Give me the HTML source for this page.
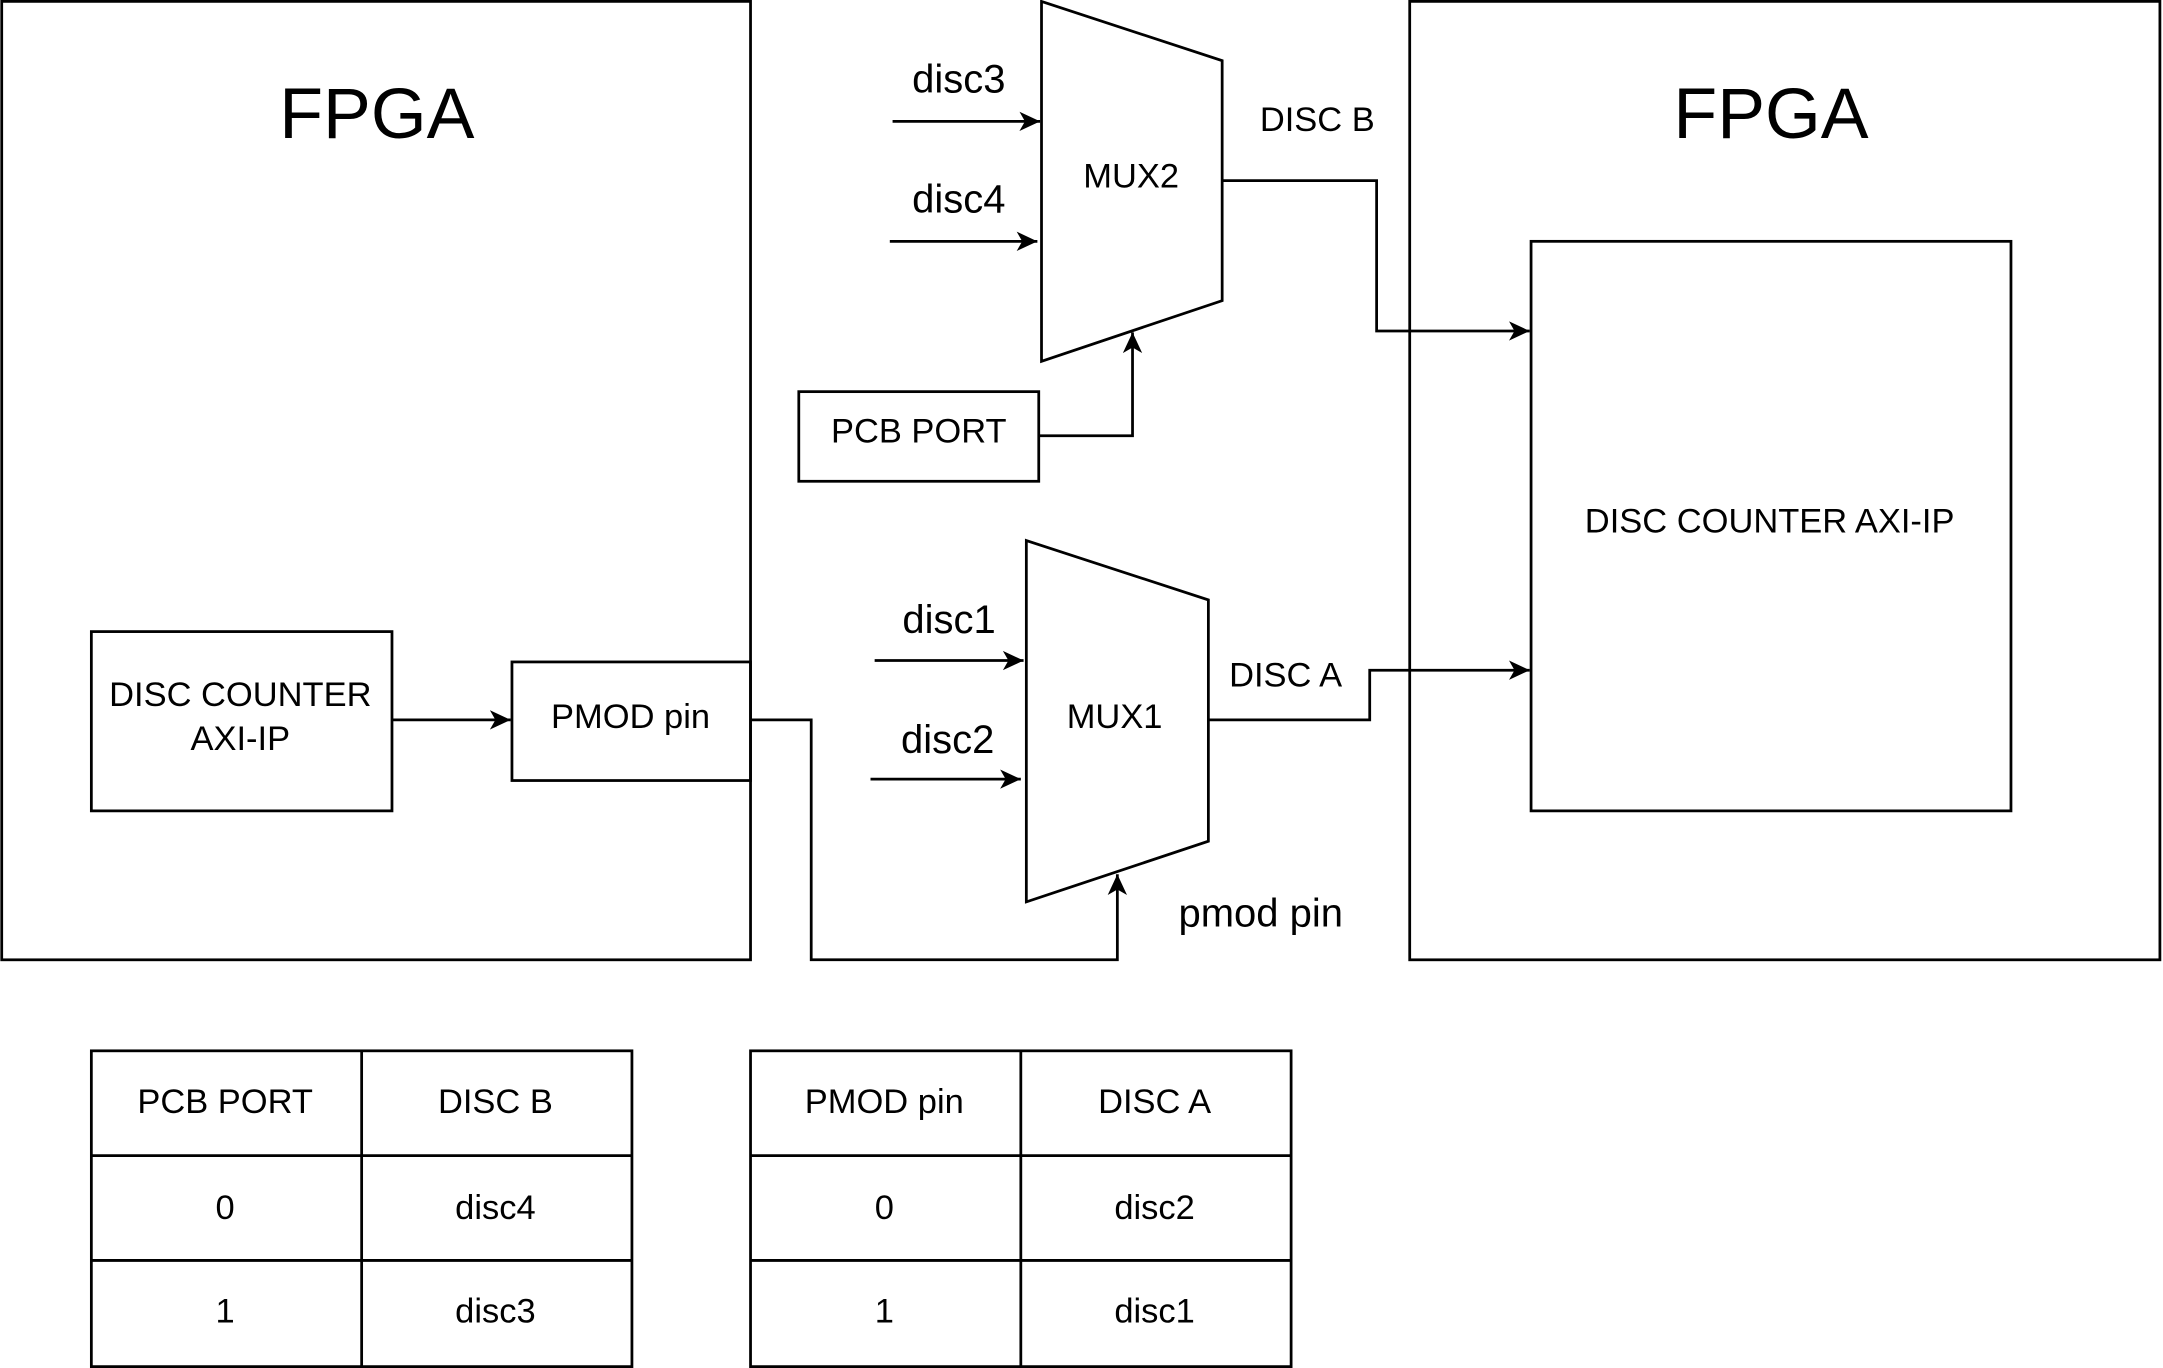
<!DOCTYPE html>
<html><head><meta charset="utf-8"><style>
html,body{margin:0;padding:0;background:#fff;}
svg{display:block;}
text{font-family:"Liberation Sans",Arial,sans-serif;fill:#000;}
</style></head><body>
<svg width="2163" height="1368" viewBox="0 0 1568 992" xmlns="http://www.w3.org/2000/svg">
<defs><marker id="a" markerWidth="16" markerHeight="16" refX="15" refY="7" orient="auto" markerUnits="userSpaceOnUse"><path d="M0,0 L15,7 L0,14 L4,7 Z" fill="#000"/></marker></defs>
<g fill="none" stroke="#000" stroke-width="2">
<rect x="1" y="1" width="543" height="695"/>
<rect x="1022" y="1" width="544" height="695"/>
<rect x="66" y="458" width="218" height="130"/>
<rect x="371" y="480" width="173" height="86"/>
<rect x="1110" y="175" width="348" height="413"/>
<rect x="579" y="284" width="174" height="65"/>
<polygon points="744,392 876,435 876,610 744,654"/>
<polygon points="755,1 886,44 886,218 755,262"/>
<line x1="284" y1="522" x2="370" y2="522" marker-end="url(#a)"/>
<polyline points="544,522 588,522 588,696 810,696 810,634" marker-end="url(#a)"/>
<line x1="634" y1="479" x2="742" y2="479" marker-end="url(#a)"/>
<line x1="631" y1="565" x2="740" y2="565" marker-end="url(#a)"/>
<polyline points="876,522 993,522 993,486 1109,486" marker-end="url(#a)"/>
<line x1="647" y1="88" x2="754" y2="88" marker-end="url(#a)"/>
<line x1="645" y1="175" x2="752" y2="175" marker-end="url(#a)"/>
<polyline points="886,131 998,131 998,240 1109,240" marker-end="url(#a)"/>
<polyline points="753,316 821,316 821,241" marker-end="url(#a)"/>
<rect x="66" y="762" width="392" height="229"/>
<line x1="262" y1="762" x2="262" y2="991"/>
<line x1="66" y1="838" x2="458" y2="838"/>
<line x1="66" y1="914" x2="458" y2="914"/>
<rect x="544" y="762" width="392" height="229"/>
<line x1="740" y1="762" x2="740" y2="991"/>
<line x1="544" y1="838" x2="936" y2="838"/>
<line x1="544" y1="914" x2="936" y2="914"/>
</g>
<g text-anchor="middle" font-size="25">
<text x="273" y="100" font-size="52">FPGA</text>
<text x="1284" y="100" font-size="52">FPGA</text>
<text x="174" y="512">DISC COUNTER</text>
<text x="174" y="544">AXI-IP</text>
<text x="457" y="528">PMOD pin</text>
<text x="808" y="528">MUX1</text>
<text x="820" y="136">MUX2</text>
<text x="666" y="321">PCB PORT</text>
<text x="1283" y="386">DISC COUNTER AXI-IP</text>
<text x="932" y="498">DISC A</text>
<text x="955" y="95">DISC B</text>
<text x="914" y="672" font-size="29">pmod pin</text>
<text x="688" y="459" font-size="29">disc1</text>
<text x="687" y="546" font-size="29">disc2</text>
<text x="695" y="67" font-size="29">disc3</text>
<text x="695" y="154" font-size="29">disc4</text>
<text x="163" y="807">PCB PORT</text>
<text x="359" y="807">DISC B</text>
<text x="163" y="884">0</text>
<text x="359" y="884">disc4</text>
<text x="163" y="959">1</text>
<text x="359" y="959">disc3</text>
<text x="641" y="807">PMOD pin</text>
<text x="837" y="807">DISC A</text>
<text x="641" y="884">0</text>
<text x="837" y="884">disc2</text>
<text x="641" y="959">1</text>
<text x="837" y="959">disc1</text>
</g>
</svg>
</body></html>
